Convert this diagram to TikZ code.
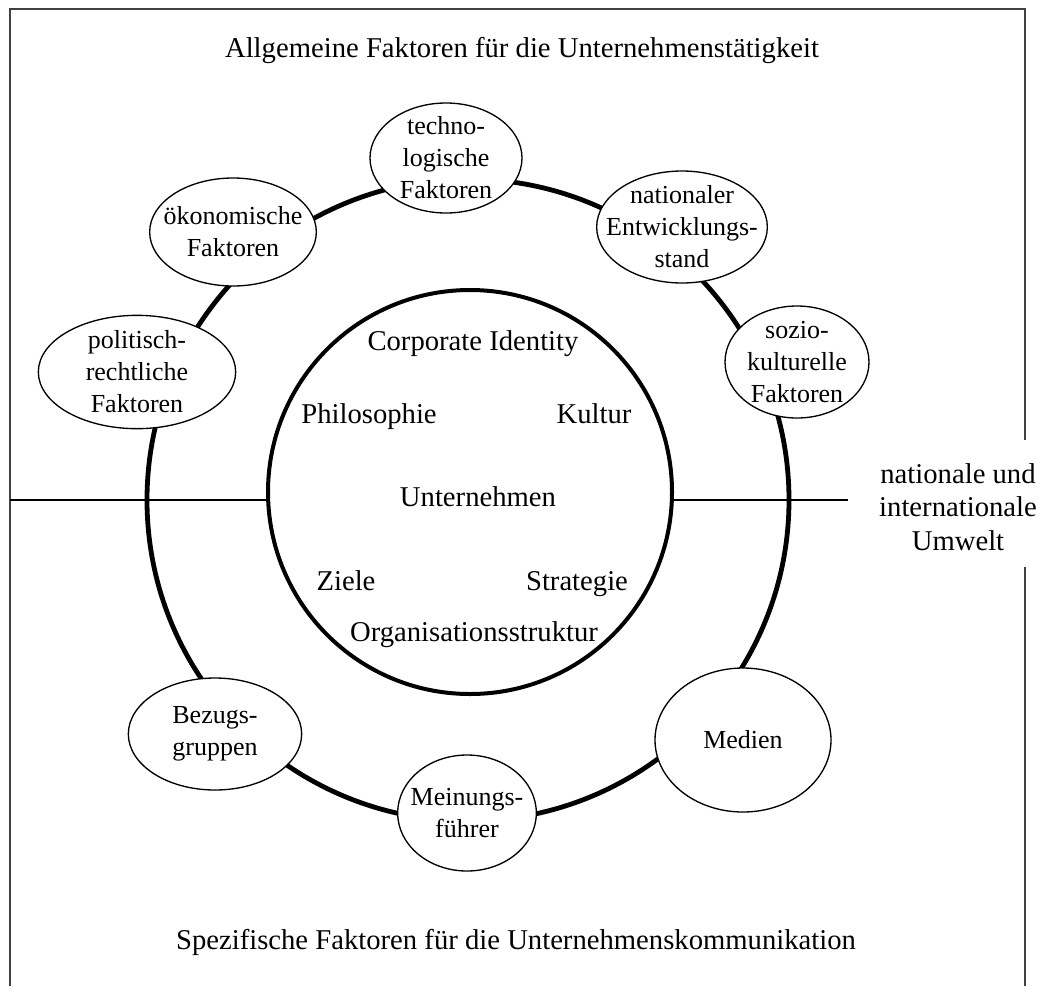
\documentclass[tikz,border=0pt]{standalone}
\usepackage{fontspec}
\setmainfont{Liberation Serif}
\usetikzlibrary{shapes.geometric}

\tikzset{every picture/.style={line width=0.75pt}}
\tikzset{
  faktor/.style={ellipse, draw, fill=white, line width=1pt, inner sep=0pt},
  ring/.style={circle, draw, line width=3.6pt, inner sep=0pt},
  schrift/.style={inner sep=0.75pt, align=center},
  zeile/.style={inner sep=0.75pt, anchor=base},
  innen/.style={inner sep=0pt, align=center, font=\fontsize{19.5}{24}\selectfont}
}

\begin{document}
\begin{tikzpicture}[x=0.75pt,y=0.75pt,yscale=-1,xscale=1,
  font=\fontsize{21.5}{25}\selectfont]
\useasboundingbox (0,0) rectangle (1045,986);

%Frame (open at the bottom, gap on the right)
\draw [color=black!75, line width=1.1pt] (10,986) -- (10,9) -- (1025,9) -- (1025,440) ;
\draw [color=black!75, line width=1.1pt] (1025,567) -- (1025,986) ;

%Outer ring
\node [ring, minimum size=481.5pt] (umfeld) at (468,500) {};
%Inner circle
\node [ring, line width=3pt, fill=white, minimum size=303pt] (kern) at (470,492) {};

%Ends of the split line
\coordinate (links) at (10,500) ;
\coordinate (rechts) at (848,500) ;
\draw [line width=1pt] (links) -- (links -| kern.west) ;
\draw [line width=1pt] (rechts -| kern.east) -- (rechts) ;

%Ellipses on the ring
\node [faktor, minimum width=114pt, minimum height=82.5pt] (techno) at (446,158) {};
\node [faktor, minimum width=128pt, minimum height=84pt] (national) at (682,227) {};
\node [faktor, minimum width=108pt, minimum height=84pt] (sozio) at (797,362) {};
\node [faktor, minimum width=125pt, minimum height=81pt] (oeko) at (233,232) {};
\node [faktor, minimum width=148pt, minimum height=85pt] (politik) at (137,372) {};
\node [faktor, minimum width=130pt, minimum height=84pt] (bezug) at (215,734) {};
\node [faktor, minimum width=104pt, minimum height=87pt] (meinung) at (467,813) {};
\node [faktor, minimum width=132pt, minimum height=108pt] (medien) at (743,740) {};

%Ellipse texts
\node [innen] at (techno) {techno-\\logische\\Faktoren};
\node [innen] at (national) {nationaler\\Entwicklungs-\\stand};
\node [innen] at (sozio) {sozio-\\kulturelle\\Faktoren};
\node [innen] at (oeko) {ökonomische\\Faktoren};
\node [innen] at (politik) {politisch-\\rechtliche\\Faktoren};
\node [innen] at (bezug) {Bezugs-\\gruppen};
\node [innen] at (meinung) {Meinungs-\\führer};
\node [innen] at (medien) {Medien};

% Text Node
\node [schrift] (allgemein) at (522,50) {Allgemeine Faktoren für die Unternehmenstätigkeit};
% Text Node
\node [schrift] (spezifisch) at (516,942) {Spezifische Faktoren für die Unternehmenskommunikation};
% Text Node
\node [schrift] (umwelt) at (958,507) {nationale und\\internationale\\Umwelt};

% Text Node
\node [zeile] (ci) at (473,350) {Corporate Identity};
% Text Node
\node [zeile] (philo) at (369,423) {Philosophie};
% Text Node
\node [zeile] (kultur) at (594,423) {Kultur};
% Text Node
\node [zeile] (firma) at (478,506) {Unternehmen};
% Text Node
\node [zeile] (ziele) at (346,590) {Ziele};
% Text Node
\node [zeile] (strategie) at (577,590) {Strategie};
% Text Node
\node [zeile] (orga) at (474,641) {Organisationsstruktur};

\end{tikzpicture}
\end{document}
